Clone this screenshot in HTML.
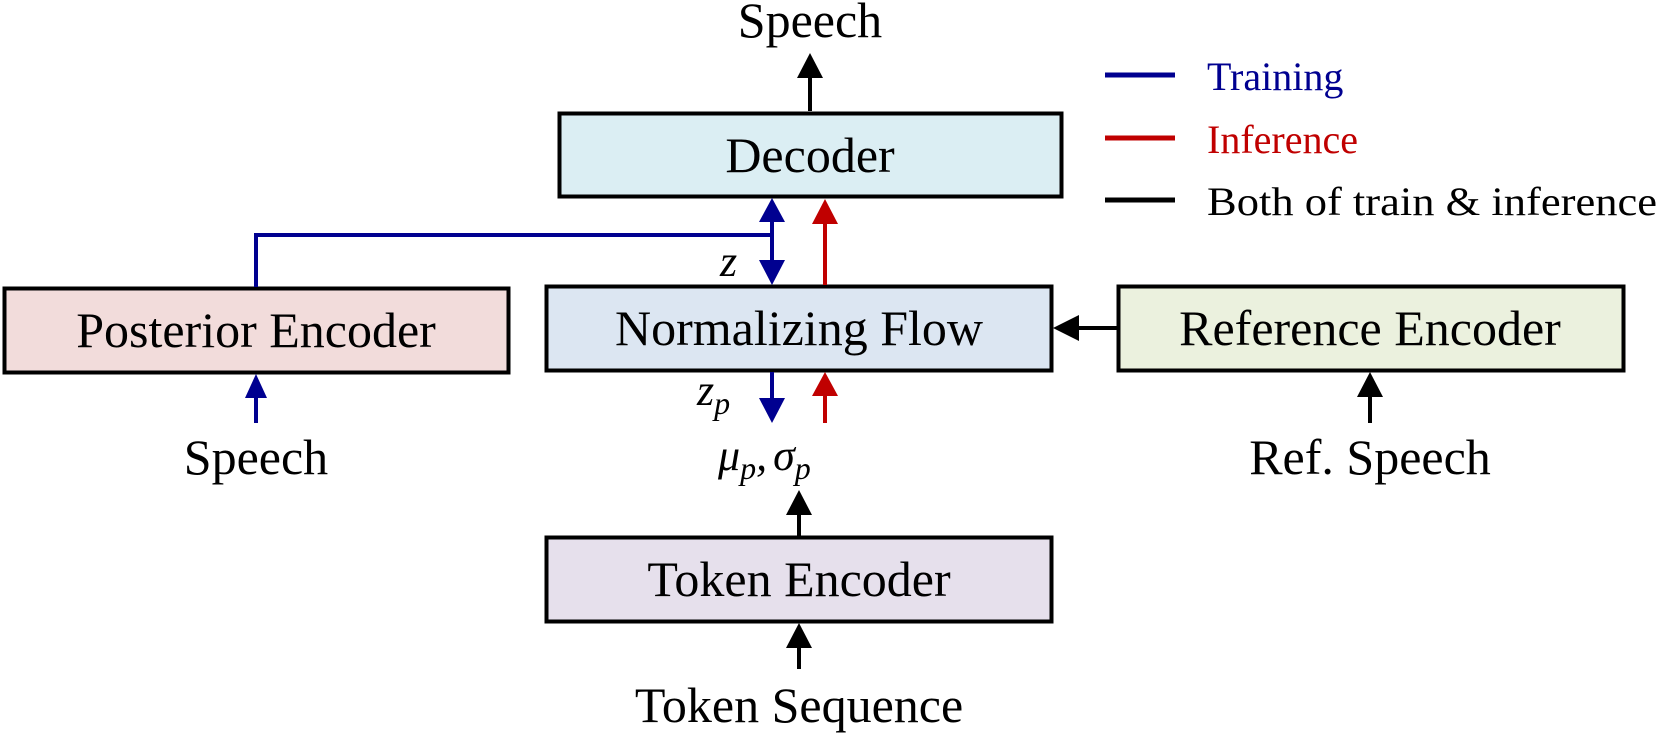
<!DOCTYPE html>
<html><head><meta charset="utf-8"><style>
html,body{margin:0;padding:0;background:#fff;}
svg{display:block;}
text{font-family:"Liberation Serif",serif;fill:#000;}
</style></head><body>
<svg width="1661" height="739" viewBox="0 0 1661 739" xmlns="http://www.w3.org/2000/svg">
<!-- boxes -->
<rect x="559.5" y="113.5" width="502" height="83" fill="#dbeef3" stroke="#000" stroke-width="4"/>
<rect x="4.5" y="288.5" width="504" height="84" fill="#f2dcdb" stroke="#000" stroke-width="4"/>
<rect x="546.5" y="286.5" width="505" height="84" fill="#dce6f2" stroke="#000" stroke-width="4"/>
<rect x="1118.5" y="286.5" width="505" height="84" fill="#ebf1de" stroke="#000" stroke-width="4"/>
<rect x="546.5" y="537.5" width="505" height="84" fill="#e6e0ec" stroke="#000" stroke-width="4"/>
<g font-size="50" text-anchor="middle">
<text x="810" y="172">Decoder</text>
<text x="256" y="347">Posterior Encoder</text>
<text x="799" y="345">Normalizing Flow</text>
<text x="1370" y="345">Reference Encoder</text>
<text x="799" y="596">Token Encoder</text>
<text x="810" y="37">Speech</text>
<text x="256" y="474">Speech</text>
<text x="1370" y="474">Ref. Speech</text>
<text x="799" y="722">Token Sequence</text>
</g>
<!-- black arrows -->
<g stroke="#000" stroke-width="4" fill="#000">
<line x1="810" y1="111" x2="810" y2="75"/><path d="M797,78 L810,53 L823,78 z" stroke="none"/>
<line x1="799" y1="536" x2="799" y2="512"/><path d="M786,515 L799,490 L812,515 z" stroke="none"/>
<line x1="799" y1="669" x2="799" y2="645"/><path d="M786,648 L799,623 L812,648 z" stroke="none"/>
<line x1="1370" y1="423" x2="1370" y2="394"/><path d="M1357,397 L1370,372 L1383,397 z" stroke="none"/>
<line x1="1117" y1="328" x2="1076" y2="328"/><path d="M1079,315 L1053,328 L1079,341 z" stroke="none"/>
</g>
<!-- blue -->
<g stroke="#000090" stroke-width="4" fill="#000090">
<polyline points="256,287 256,235 772,235" fill="none"/>
<line x1="772" y1="222" x2="772" y2="260"/>
<path d="M759,222 L772,198 L785,222 z" stroke="none"/>
<path d="M759,260 L772,285 L785,260 z" stroke="none"/>
<line x1="772" y1="372" x2="772" y2="400"/><path d="M759,398 L772,423 L785,398 z" stroke="none"/>
<line x1="256" y1="423" x2="256" y2="396"/><path d="M245,398 L256,374 L267,398 z" stroke="none"/>
</g>
<!-- red -->
<g stroke="#c00000" stroke-width="4" fill="#c00000">
<line x1="825" y1="285" x2="825" y2="222"/><path d="M812,224 L825,199 L838,224 z" stroke="none"/>
<line x1="825" y1="423" x2="825" y2="394"/><path d="M812,396 L825,372 L838,396 z" stroke="none"/>
</g>
<!-- math labels -->
<text x="720" y="276" font-size="44" font-style="italic" font-family="DejaVu Serif,serif">z</text>
<text x="697" y="405" font-size="44" font-style="italic" font-family="DejaVu Serif,serif">z<tspan font-size="32" dy="9">p</tspan></text>
<text x="718" y="470" font-size="44" font-style="italic" font-family="DejaVu Serif,serif">μ<tspan font-size="32" dy="9">p</tspan><tspan dy="-9">,</tspan><tspan dx="6">σ</tspan><tspan font-size="32" dy="9">p</tspan></text>
<!-- legend -->
<line x1="1105" y1="75" x2="1175" y2="75" stroke="#000090" stroke-width="5"/>
<line x1="1105" y1="138" x2="1175" y2="138" stroke="#c00000" stroke-width="5"/>
<line x1="1105" y1="200" x2="1175" y2="200" stroke="#000" stroke-width="5"/>
<g font-size="40">
<text x="1207" y="90" style="fill:#000090">Training</text>
<text x="1207" y="153" style="fill:#c00000">Inference</text>
<text x="1207" y="215" textLength="450" lengthAdjust="spacingAndGlyphs">Both of train &amp; inference</text>
</g>
</svg>
</body></html>
